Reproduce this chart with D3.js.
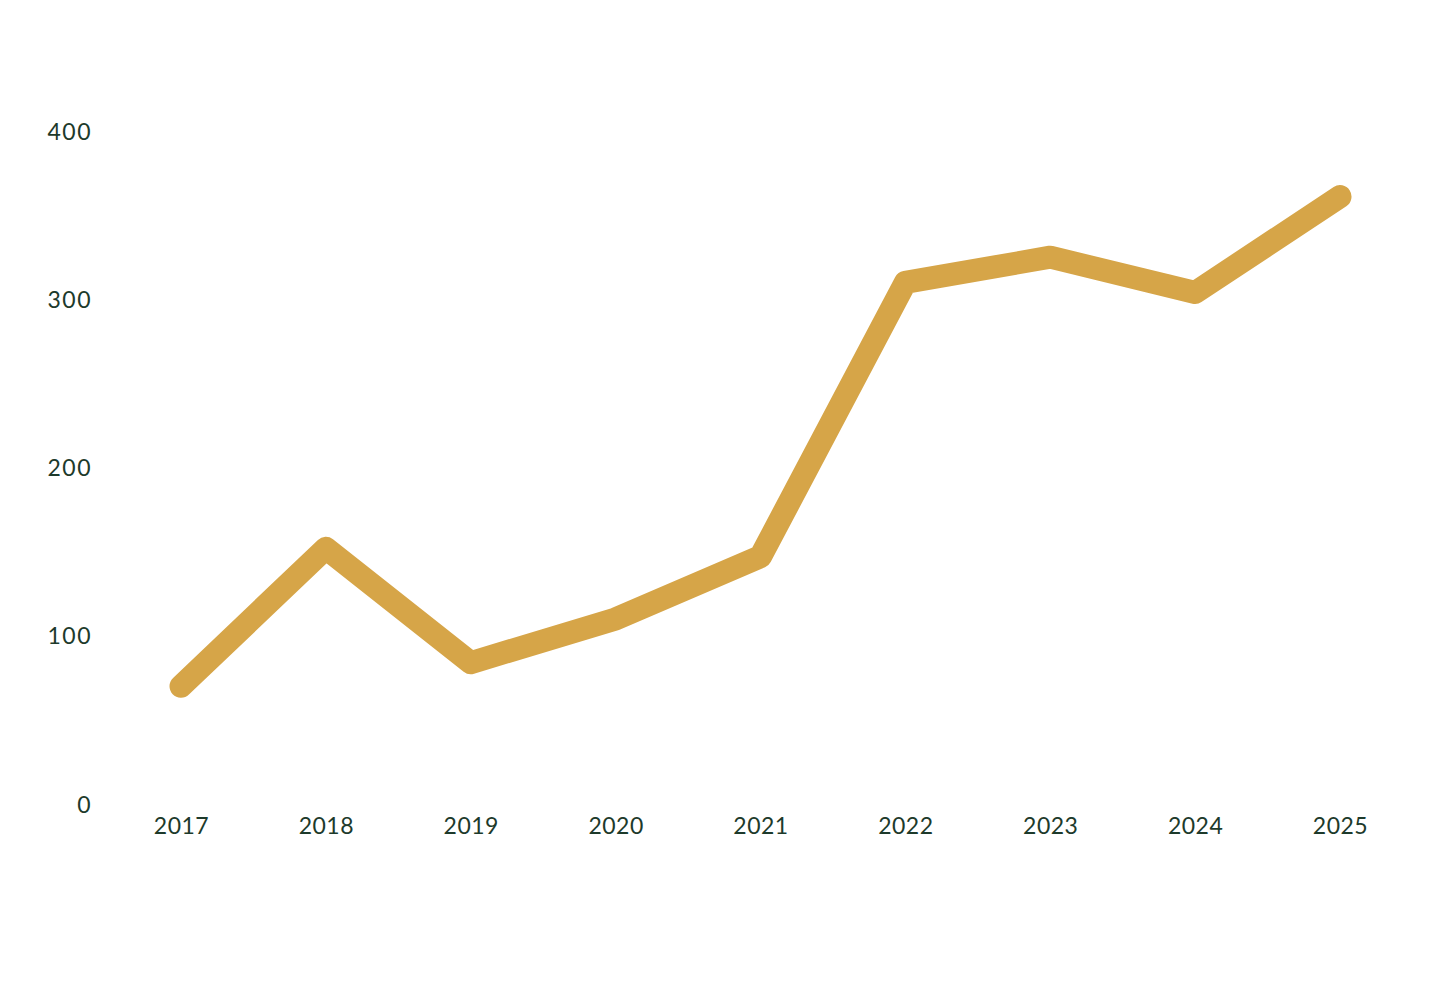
<!DOCTYPE html>
<html><head><meta charset="utf-8">
<script src="https://cdn.jsdelivr.net/npm/d3@7"></script>
<style>html,body{margin:0;padding:0;background:#fff;}</style>
</head><body>
<svg id="chart" width="1456" height="983"></svg>
<script>
const years = ["2017","2018","2019","2020","2021","2022","2023","2024","2025"];
const values = [70, 152, 84, 110, 147, 310, 325, 304, 361];
const yTicks = [0, 100, 200, 300, 400];

const svg = d3.select("#chart");
const x = d3.scalePoint().domain(years).range([181, 1340]);
const y = d3.scaleLinear().domain([0, 400]).range([804, 131]);
const textColor = "#1d3a2b";
const font = "Lato, 'Open Sans', sans-serif";

const yAxis = svg.append("g").attr("transform", "translate(92,0)")
  .call(d3.axisLeft(y).tickValues(yTicks).tickSize(0).tickPadding(0));
yAxis.select(".domain").remove();
yAxis.selectAll("text").attr("fill", textColor).attr("font-size", 23)
  .attr("font-family", font).attr("letter-spacing", "1.5px").attr("dy", "0.35em");

const xAxis = svg.append("g").attr("transform", "translate(0,826)")
  .call(d3.axisBottom(x).tickSize(0).tickPadding(0));
xAxis.select(".domain").remove();
xAxis.selectAll("text").attr("fill", textColor).attr("font-size", 23)
  .attr("font-family", font).attr("letter-spacing", "0.5px").attr("dy", "0.35em");

const line = d3.line().x((d,i) => x(years[i])).y(d => y(d));
svg.append("path").datum(values).attr("d", line)
  .attr("fill", "none").attr("stroke", "#d6a548").attr("stroke-width", 23)
  .attr("stroke-linecap", "round").attr("stroke-linejoin", "round");
</script>
</body></html>
